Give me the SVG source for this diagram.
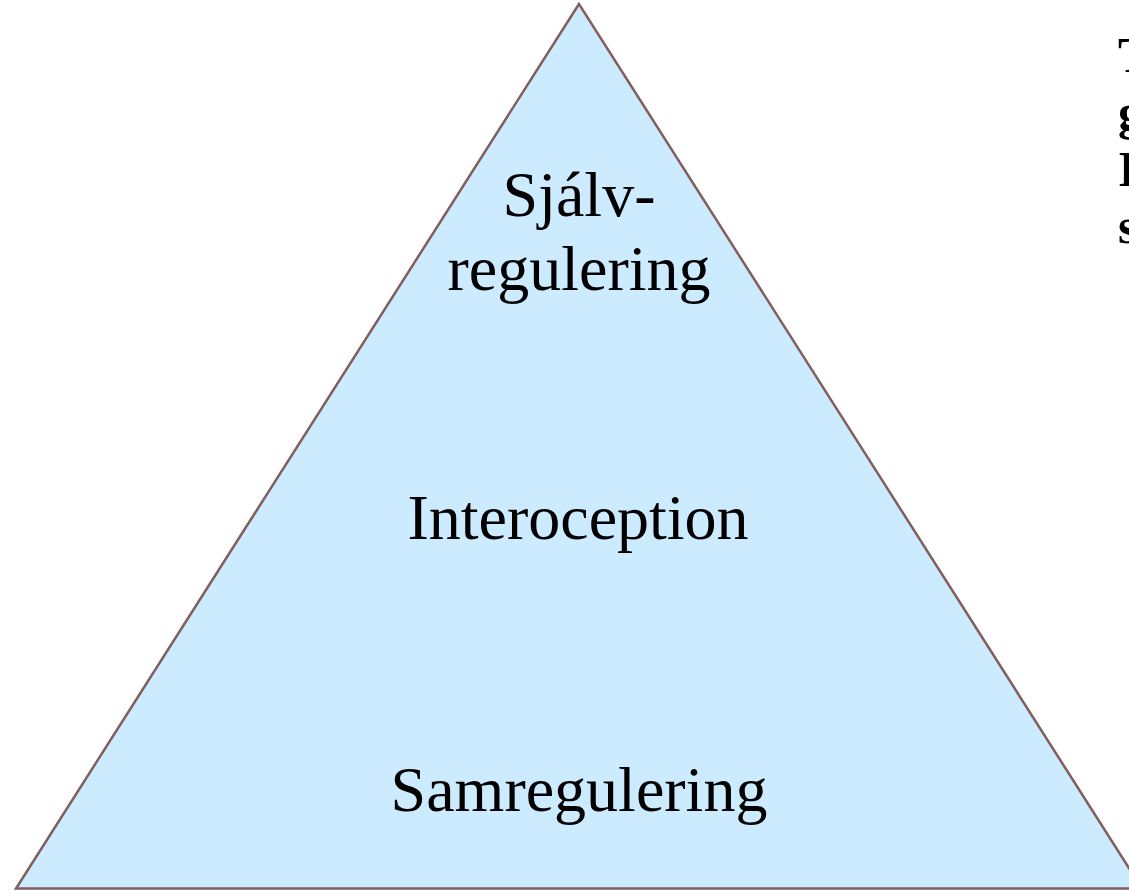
<svg xmlns="http://www.w3.org/2000/svg" width="1129" height="891" viewBox="0 0 1129 891">
<style>
.lbl{font-family:"Liberation Serif","Times New Roman",serif;font-size:64px;fill:#000;text-anchor:middle}
.side{font-family:"Liberation Serif","Times New Roman",serif;font-size:50px;font-weight:bold;fill:#000}
</style>
<rect width="1129" height="891" fill="#fff"/>
<g id="pyramid">
<polygon points="579,4 16,888.5 1142,888.5" fill="#CCEBFF" stroke="#825E5E" stroke-width="2.5"/>
</g>
<g id="level-top">
<text class="lbl" x="579" y="216">Sjálv-</text>
<text class="lbl" x="579" y="290">regulering</text>
</g>
<g id="level-middle">
<text class="lbl" x="578" y="539">Interoception</text>
</g>
<g id="level-bottom">
<text class="lbl" x="579" y="811">Samregulering</text>
</g>
<g id="side-text">
<text class="side" x="1118" y="72">T</text>
<text class="side" x="1118" y="129">g</text>
<text class="side" x="1118" y="186">I</text>
<text class="side" x="1118" y="243">s</text>
</g>
<g id="connectors"></g>
</svg>
